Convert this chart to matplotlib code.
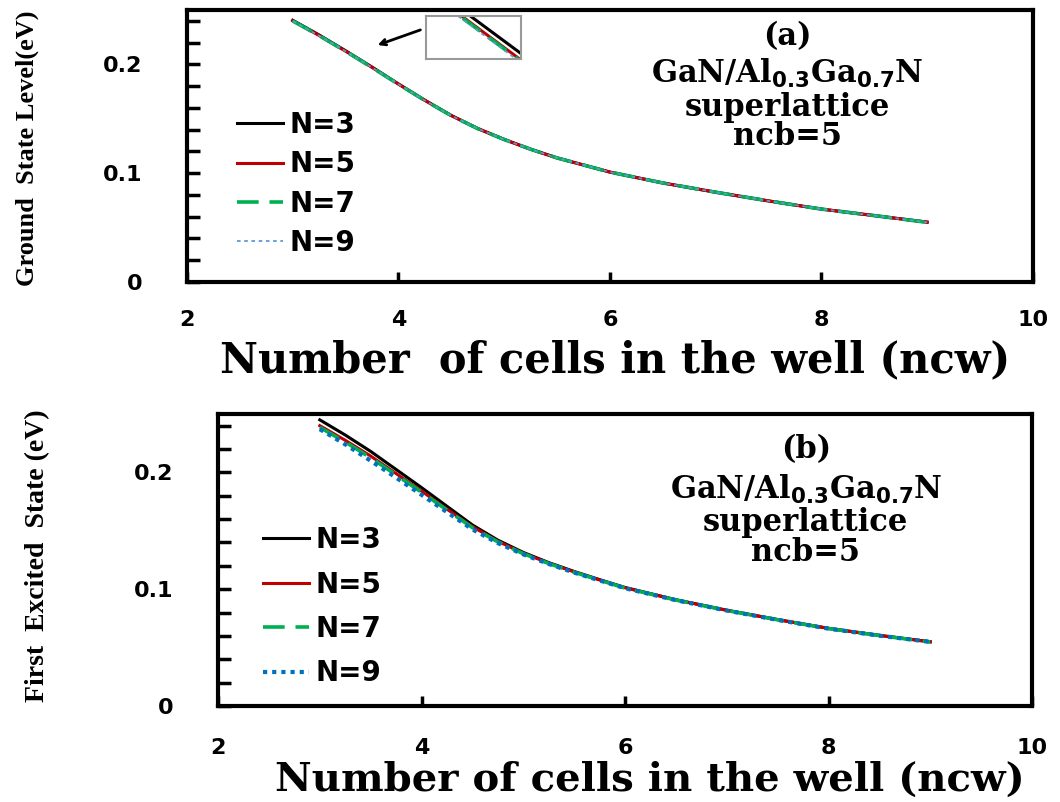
import matplotlib
matplotlib.use('Agg')
import matplotlib.pyplot as plt
from matplotlib.ticker import MultipleLocator, FuncFormatter
import numpy as np

plt.rcParams['mathtext.fontset'] = 'custom'
plt.rcParams['mathtext.rm'] = 'DejaVu Sans:bold'
plt.rcParams['mathtext.bf'] = 'DejaVu Sans:bold'

# number of cells in the well
ncw = [3.0, 3.25, 3.5, 3.75, 4.0, 4.25, 4.5, 4.75, 5.0, 5.25, 5.5, 5.75, 6.0,
       6.5, 7.0, 7.5, 8.0, 8.5, 9.0]

# (a) ground state level (eV)
ground_n3 = [0.2405, 0.2270, 0.2125, 0.1975, 0.1820, 0.1670, 0.1530, 0.1410, 0.1310,
             0.1220, 0.1140, 0.1075, 0.1010, 0.0910, 0.0825, 0.0745, 0.0670, 0.0610, 0.0550]
ground_n5 = [0.2400, 0.2265, 0.2121, 0.1972, 0.1818, 0.1669, 0.1529, 0.1410, 0.1310,
             0.1220, 0.1140, 0.1075, 0.1010, 0.0910, 0.0825, 0.0745, 0.0670, 0.0610, 0.0550]
ground_n7 = [0.2399, 0.2264, 0.2120, 0.1971, 0.1817, 0.1668, 0.1528, 0.1409, 0.1309,
             0.1220, 0.1140, 0.1075, 0.1010, 0.0910, 0.0825, 0.0745, 0.0670, 0.0610, 0.0548]
ground_n9 = [0.2398, 0.2263, 0.2120, 0.1971, 0.1817, 0.1668, 0.1528, 0.1409, 0.1309,
             0.1220, 0.1140, 0.1075, 0.1010, 0.0910, 0.0825, 0.0745, 0.0670, 0.0610, 0.0549]

# (b) first excited state (eV)
excited_n3 = [0.2450, 0.2320, 0.2180, 0.2025, 0.1870, 0.1710, 0.1550, 0.1420, 0.1315,
              0.1228, 0.1152, 0.1082, 0.1015, 0.0910, 0.0820, 0.0740, 0.0665, 0.0605, 0.0550]
excited_n5 = [0.2400, 0.2275, 0.2140, 0.1990, 0.1840, 0.1685, 0.1535, 0.1410, 0.1308,
              0.1223, 0.1148, 0.1079, 0.1012, 0.0908, 0.0819, 0.0739, 0.0664, 0.0604, 0.0549]
excited_n7 = [0.2385, 0.2260, 0.2125, 0.1978, 0.1830, 0.1677, 0.1527, 0.1405, 0.1304,
              0.1220, 0.1145, 0.1077, 0.1010, 0.0907, 0.0818, 0.0738, 0.0663, 0.0603, 0.0548]
excited_n9 = [0.2370, 0.2240, 0.2100, 0.1955, 0.1808, 0.1660, 0.1512, 0.1395, 0.1298,
              0.1216, 0.1142, 0.1075, 0.1008, 0.0906, 0.0817, 0.0737, 0.0662, 0.0602, 0.0549]

labels = ['N=3', 'N=5', 'N=7', 'N=9']
serif = 'DejaVu Serif'
sans = 'DejaVu Sans'


def style_axes(ax):
    ax.set_xlim(2, 10)
    ax.set_ylim(0, 0.25)
    for s in ax.spines.values():
        s.set_linewidth(3)
    ax.set_xticks([2, 4, 6, 8, 10])
    ax.yaxis.set_major_locator(MultipleLocator(0.02))
    ax.yaxis.set_major_formatter(FuncFormatter(
        lambda v, p: {0: '0', 10: '0.1', 20: '0.2'}.get(int(round(v * 100)), '')))
    ax.tick_params(axis='both', direction='in', width=2.5, labelsize=16)
    ax.tick_params(axis='y', length=9, pad=32)
    ax.tick_params(axis='x', length=7)
    for t in ax.get_xticklabels() + ax.get_yticklabels():
        t.set_fontweight('bold')
        t.set_family(sans)


def draw_lines(ax, ys, blue, blue_lw, blue_ls):
    ax.plot(ncw, ys[0], color='black', lw=2.2, label=labels[0])
    ax.plot(ncw, ys[1], color='#C00000', lw=2.2, label=labels[1])
    ax.plot(ncw, ys[2], color='#00B050', lw=2.6, ls=(0, (6, 3)), label=labels[2])
    ax.plot(ncw, ys[3], color=blue, lw=blue_lw, ls=blue_ls, label=labels[3])


def panel_text(ax, x, ys, tag):
    lines = [tag, 'GaN/Al$_{0.3}$Ga$_{0.7}$N', 'superlattice', 'ncb=5']
    for y, s in zip(ys, lines):
        ax.text(x, y, s, transform=ax.transAxes, ha='center', va='center',
                family=serif, weight='bold', fontsize=22)


fig = plt.figure(figsize=(10.6, 8.02), dpi=100)

# ---- panel (a)
ax1 = fig.add_axes([0.1764, 0.6484, 0.798, 0.3392])
ground = [ground_n3, ground_n5, ground_n7, ground_n9]
draw_lines(ax1, ground, '#5B9BD5', 1.3, (0, (2, 2)))
style_axes(ax1)
ax1.tick_params(axis='x', pad=20)
ax1.legend(loc='upper left', bbox_to_anchor=(0.059, 0.629), frameon=False,
           prop={'family': sans, 'weight': 'bold', 'size': 20},
           handlelength=1.65, handletextpad=0.25, labelspacing=0.41,
           borderpad=0, borderaxespad=0)
panel_text(ax1, 0.71, [0.901, 0.768, 0.643, 0.533], '(a)')
ax1.set_xlabel('Number  of cells in the well (ncw)', family=serif,
               weight='bold', fontsize=30)
ax1.xaxis.set_label_coords(0.506, -0.287)
ax1.xaxis.label.set_va('center')
ax1.set_ylabel('Ground  State Level(eV)', family='Liberation Serif',
               weight='bold', fontsize=19)
ax1.yaxis.set_label_coords(-0.189, 0.49)
ax1.yaxis.label.set_va('center')

# zoom inset
ins = fig.add_axes([0.4019, 0.9264, 0.0896, 0.0536])
draw_lines(ins, ground, '#5B9BD5', 1.3, (0, (2, 2)))
ins.set_xlim(3.05, 3.15)
yc = np.interp(3.118, ncw, ground_n5)
ins.set_ylim(yc - 0.00165, yc + 0.00165)
ins.set_xticks([])
ins.set_yticks([])
for s in ins.spines.values():
    s.set_color('#999999')
    s.set_linewidth(1.5)
ax1.annotate('', xy=(375 / 1060, 1 - 46 / 802), xytext=(423 / 1060, 1 - 29 / 802),
             xycoords='figure fraction', textcoords='figure fraction',
             arrowprops=dict(arrowstyle='->', color='black', lw=2))

# ---- panel (b)
ax2 = fig.add_axes([0.2057, 0.1197, 0.7679, 0.3641])
excited = [excited_n3, excited_n5, excited_n7, excited_n9]
draw_lines(ax2, excited, '#0070C0', 3, (0, (1, 1.2)))
style_axes(ax2)
ax2.tick_params(axis='x', pad=23)
ax2.legend(loc='upper left', bbox_to_anchor=(0.055, 0.616), frameon=False,
           prop={'family': sans, 'weight': 'bold', 'size': 20},
           handlelength=1.65, handletextpad=0.25, labelspacing=0.59,
           borderpad=0, borderaxespad=0)
panel_text(ax2, 0.722, [0.877, 0.740, 0.627, 0.524], '(b)')
ax2.set_xlabel('Number of cells in the well (ncw)', family=serif,
               weight='bold', fontsize=29)
ax2.xaxis.set_label_coords(0.531, -0.253)
ax2.xaxis.label.set_va('center')
ax2.set_ylabel('First  Excited  State (eV)', family='Liberation Serif',
               weight='bold', fontsize=20)
ax2.yaxis.set_label_coords(-0.222, 0.514)
ax2.yaxis.label.set_va('center')

fig.savefig('out.png', dpi=100)
